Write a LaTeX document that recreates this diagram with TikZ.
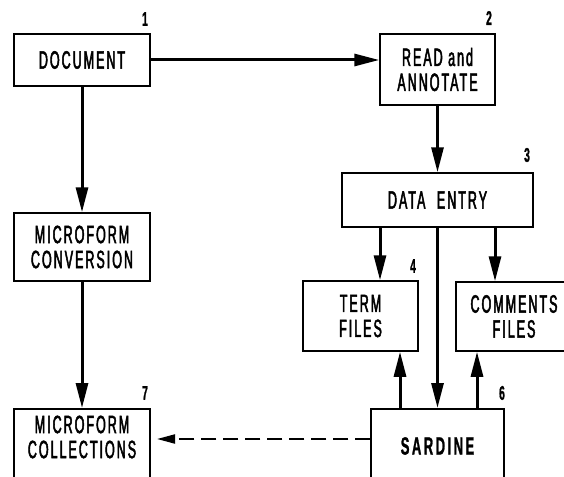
\documentclass[tikz,border=0pt]{standalone}
\usepackage{fontspec}
\setmainfont{Liberation Sans}[FakeStretch=0.5, LetterSpace=8, FakeBold=2,
  BoldFont={Liberation Sans Bold}, BoldFeatures={FakeStretch=0.52, LetterSpace=10, FakeBold=1}]
\usetikzlibrary{arrows.meta}
\begin{document}
\begin{tikzpicture}[x=1pt,y=-1pt,
  box/.style={draw, line width=1.5pt, inner sep=0pt, align=center,
    font=\fontsize{25}{25}\selectfont},
  txt/.style={inner sep=0pt, align=center, font=\fontsize{25}{25}\selectfont},
  num/.style={inner sep=0pt, font=\fontsize{20}{20}\selectfont\bfseries},
  arr/.style={line width=3pt, -{Triangle[length=25pt,width=12pt]}},
  dasharr/.style={line width=2pt, dash pattern=on 15pt off 7pt,
    -{Triangle[length=18pt,width=9pt]}}]
\useasboundingbox (0,0) rectangle (564,476);

% boxes
\node[box, minimum width=136pt, minimum height=52pt] (doc) at (82,60) {DOCUMENT};
\node[box, minimum width=115pt, minimum height=71pt] (read) at (437.5,69.5) {READ and\\ANNOTATE};
\node[box, minimum width=191pt, minimum height=54pt] (data) at (437.5,200) {DATA\hspace{6pt} ENTRY};
\node[box, minimum width=136pt, minimum height=68pt] (mconv) at (82,247) {MICROFORM\\CONVERSION};
\node[box, minimum width=115pt, minimum height=70pt] (term) at (360.5,316) {TERM\\FILES};
\node[box, minimum width=116pt, minimum height=69pt] (comm) at (514,316.5) {COMMENTS\\FILES};
% boxes running off the lower edge
\node[box, minimum width=136pt, minimum height=110pt, anchor=north] (mcoll) at (82,408) {};
\node[txt] (mcolltext) at (82,437) {MICROFORM\\COLLECTIONS};
\node[box, minimum width=133pt, minimum height=110pt, anchor=north] (sard) at (437.5,408) {};
\node[txt, font=\fontsize{25}{25}\selectfont\bfseries] (sardtext) at (437.5,446) {SARDINE};

% step numbers
\node[num] (n1) at (145,19) {1};
\node[num] (n2) at (489,18) {2};
\node[num] (n3) at (527,155) {3};
\node[num] (n4) at (413,266) {4};
\node[num] (n6) at (502,393) {6};
\node[num] (n7) at (145,393) {7};

% connector columns
\coordinate (cterm) at (380,0);
\coordinate (ccomm) at (495,0);
\coordinate (uterm) at (400,0);
\coordinate (ucomm) at (477,0);
\coordinate (dashy) at (0,439);
\coordinate (dashend) at (157,0);

% connectors
\draw[arr] (doc.east) -- (doc.east -| read.west);
\draw[arr] (doc.south) -- (mconv.north);
\draw[arr] (mconv.south) -- (mcoll.north);
\draw[arr] (read.south) -- (data.north);
\draw[arr] (data.south -| cterm) -- (term.north -| cterm);
\draw[arr] (data.south) -- (sard.north);
\draw[arr] (data.south -| ccomm) -- (comm.north -| ccomm);
\draw[arr] (sard.north -| uterm) -- (term.south -| uterm);
\draw[arr] (sard.north -| ucomm) -- (comm.south -| ucomm);
\draw[dasharr] (sard.west |- dashy) -- (dashend |- dashy);
\end{tikzpicture}
\end{document}
